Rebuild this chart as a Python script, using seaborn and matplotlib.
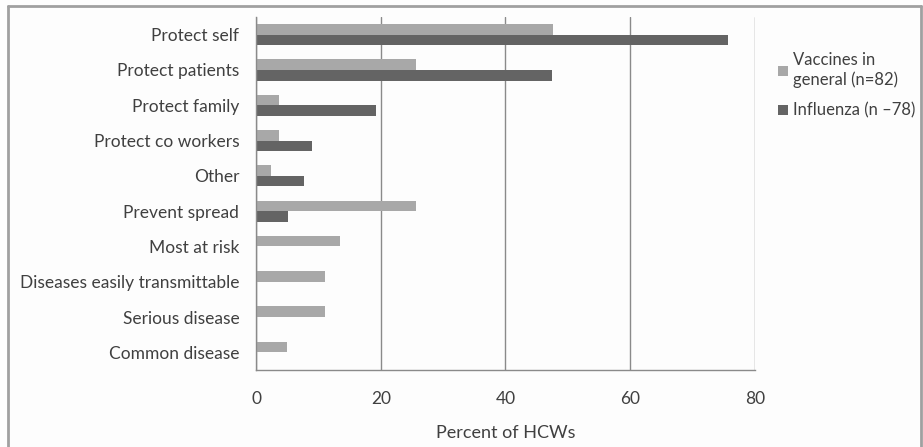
import matplotlib
matplotlib.use("Agg")
import matplotlib.pyplot as plt
import seaborn as sns
import pandas as pd
from matplotlib.lines import Line2D

categories = ["Protect self", "Protect patients", "Protect family", "Protect co workers",
              "Other", "Prevent spread", "Most at risk", "Diseases easily transmittable",
              "Serious disease", "Common disease"]
vaccines = [47.6, 25.6, 3.7, 3.7, 2.4, 25.6, 13.4, 11.0, 11.0, 4.9]
influenza = [75.6, 47.4, 19.2, 9.0, 7.7, 5.1, 0, 0, 0, 0]
series_labels = ["Vaccines in\ngeneral (n=82)", "Influenza (n \u201378)"]
xticks = [0, 20, 40, 60, 80]

df = pd.DataFrame({
    "category": categories * 2,
    "value": vaccines + influenza,
    "series": [series_labels[0]] * len(categories) + [series_labels[1]] * len(categories),
})

sns.set_theme(style="white")
plt.rcParams["font.family"] = ["Lato", "DejaVu Sans"]
text_color = "#404040"

fig = plt.figure(figsize=(9.23, 4.47), dpi=100, facecolor="#fdfdfd")
ax = fig.add_axes([256 / 923, 1 - 370 / 447, (755 - 256) / 923, (370 - 17) / 447])
ax.set_facecolor("#fdfdfd")

sns.barplot(data=df, y="category", x="value", hue="series", orient="h",
            palette=["#a8a8a8", "#646464"], width=0.6, saturation=1,
            linewidth=0, ax=ax, legend=True)

ax.set_xlim(0, 80)
ax.set_xticks(xticks)
ax.grid(axis="x", color="#8a8a8a", linewidth=1)
ax.set_axisbelow(True)
for s in ["top", "right"]:
    ax.spines[s].set_visible(False)
for s in ["left", "bottom"]:
    ax.spines[s].set_color("#8a8a8a")
    ax.spines[s].set_linewidth(1)
ax.tick_params(axis="both", length=0, colors=text_color, labelsize=12.5)
ax.tick_params(axis="x", pad=15)
ax.tick_params(axis="y", pad=12)
ax.set_ylabel("")
ax.set_xlabel("Percent of HCWs", fontsize=13, color=text_color, labelpad=13)

leg = ax.legend(loc="upper left", bbox_to_anchor=(770 / 923, 1 - 44 / 447),
                bbox_transform=fig.transFigure, frameon=False, fontsize=12,
                handlelength=0.55, handleheight=0.55, handletextpad=0.35,
                labelspacing=0.9, borderpad=0)
for t in leg.get_texts():
    t.set_color(text_color)

frame_kw = dict(transform=fig.transFigure, color="#a0a0a0", linewidth=2)
fig.add_artist(Line2D([8 / 923, 8 / 923], [0, 1 - 6 / 447], **frame_kw))
fig.add_artist(Line2D([8 / 923, 921 / 923], [1 - 6 / 447, 1 - 6 / 447], **frame_kw))
fig.add_artist(Line2D([921 / 923, 921 / 923], [0, 1 - 6 / 447], **frame_kw))

fig.savefig("out.png", dpi=100, facecolor=fig.get_facecolor())
